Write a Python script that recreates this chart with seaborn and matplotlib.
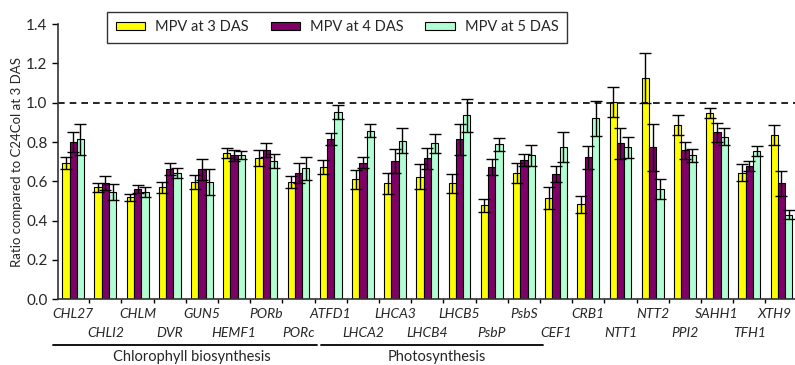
import numpy as np
import pandas as pd
import matplotlib
matplotlib.use("Agg")
import matplotlib.pyplot as plt
import matplotlib.transforms as mtransforms
import seaborn as sns

genes = ["CHL27", "CHLI2", "CHLM", "DVR", "GUN5", "HEMF1", "PORb", "PORc",
         "ATFD1", "LHCA2", "LHCA3", "LHCB4", "LHCB5", "PsbP", "PsbS",
         "CEF1", "CRB1", "NTT1", "NTT2", "PPI2", "SAHH1", "TFH1", "XTH9"]
series_names = ["MPV at 3 DAS", "MPV at 4 DAS", "MPV at 5 DAS"]
das3 = [0.695, 0.569, 0.518, 0.569, 0.596, 0.746, 0.717, 0.595,
        0.674, 0.610, 0.590, 0.623, 0.590, 0.479, 0.644,
        0.513, 0.483, 1.005, 1.124, 0.885, 0.949, 0.644, 0.834]
das4 = [0.800, 0.590, 0.561, 0.661, 0.661, 0.732, 0.759, 0.644,
        0.814, 0.695, 0.703, 0.717, 0.814, 0.674, 0.708,
        0.639, 0.722, 0.793, 0.773, 0.758, 0.849, 0.679, 0.590]
das5 = [0.814, 0.547, 0.547, 0.644, 0.596, 0.732, 0.703, 0.666,
        0.951, 0.858, 0.807, 0.793, 0.936, 0.788, 0.732,
        0.773, 0.921, 0.773, 0.561, 0.732, 0.827, 0.753, 0.430]
err3 = [0.030, 0.025, 0.020, 0.030, 0.035, 0.025, 0.040, 0.030,
        0.035, 0.050, 0.055, 0.063, 0.047, 0.033, 0.050,
        0.056, 0.042, 0.076, 0.127, 0.050, 0.026, 0.042, 0.051]
err4 = [0.050, 0.035, 0.020, 0.030, 0.055, 0.030, 0.035, 0.050,
        0.030, 0.027, 0.060, 0.054, 0.078, 0.040, 0.030,
        0.040, 0.058, 0.077, 0.120, 0.042, 0.049, 0.024, 0.064]
err5 = [0.080, 0.040, 0.025, 0.025, 0.065, 0.020, 0.035, 0.060,
        0.035, 0.034, 0.063, 0.049, 0.083, 0.032, 0.054,
        0.076, 0.090, 0.054, 0.050, 0.032, 0.043, 0.025, 0.024]
groups = ["Chlorophyll biosynthesis", "Photosynthesis"]

colors = ["#FFFF00", "#7F0066", "#AFFFD2"]

sns.set_style("white")
plt.rcParams["font.family"] = ["Lato", "DejaVu Sans"]

df = pd.DataFrame({
    "gene": genes * 3,
    "series": np.repeat(series_names, len(genes)),
    "value": das3 + das4 + das5,
})

fig = plt.figure(figsize=(7.95, 3.65), dpi=100)
ax = fig.add_axes([0.073, 0.18, 0.927, 0.754])

sns.barplot(data=df, x="gene", y="value", hue="series", order=genes,
            hue_order=series_names, palette=colors, width=0.68, errorbar=None,
            saturation=1, edgecolor="black", linewidth=0.8, ax=ax, legend=True)

errs = [err3, err4, err5]
vals = [das3, das4, das5]
for cont, e, v in zip(ax.containers, errs, vals):
    xs = [b.get_x() + b.get_width() / 2 for b in cont]
    ax.errorbar(xs, v, yerr=e, fmt="none", ecolor="black", elinewidth=1.0,
                capsize=4, capthick=1.0, zorder=5)

ax.set_ylim(0, 1.4)
ax.set_xlim(-0.47, 22.42)
ax.set_yticks(np.arange(0, 1.41, 0.2))
ax.set_yticklabels([f"{t:.1f}" for t in np.arange(0, 1.41, 0.2)], fontsize=11)
ax.axhline(1.0, color="black", linestyle=(0, (4, 3)), linewidth=1.2, zorder=1)

# boundary tick marks (major, unlabeled)
ax.set_xticks(np.arange(0.5, len(genes) - 0.5, 1))
ax.set_xticklabels([])
ax.tick_params(axis="x", which="major", length=3, width=1, direction="out",
               color="black", bottom=True)

# staggered category labels: even on minor ticks, odd on a secondary axis (lower row)
even = list(range(0, len(genes), 2))
odd = list(range(1, len(genes), 2))
ax.set_xticks(even, minor=True)
ax.set_xticklabels([genes[i] for i in even], minor=True, fontsize=10, style="italic")
ax.tick_params(axis="x", which="minor", length=0, pad=6)

sec = ax.secondary_xaxis("bottom")
sec.set_xticks(odd)
sec.set_xticklabels([genes[i] for i in odd], fontsize=10, style="italic")
sec.tick_params(axis="x", length=0, pad=20)
sec.spines["bottom"].set_visible(False)

last = ax.get_xticklabels(minor=True)[-1]
last.set_transform(last.get_transform() +
                   mtransforms.ScaledTranslation(-7 / 100, 0, fig.dpi_scale_trans))

ax.tick_params(axis="y", length=4, width=1, direction="out", color="black", left=True)
ax.set_xlabel("")
ax.set_ylabel("Ratio compared to C24Col at 3 DAS", fontsize=9.5, labelpad=2)

sns.despine(ax=ax, top=True, right=True)
for s in ["left", "bottom"]:
    ax.spines[s].set_color("#333333")
    ax.spines[s].set_linewidth(1.2)

trans = mtransforms.blended_transform_factory(ax.transData, fig.transFigure)
line_y = 1 - 345 / 365
text_y = 1 - 357 / 365
for (x0, x1, xt), name in zip([(-0.62, 7.58, 3.7), (7.7, 14.6, 11.3)], groups):
    ax.plot([x0, x1], [line_y, line_y], color="black", linewidth=1.3,
            transform=trans, clip_on=False)
    ax.text(xt, text_y, name, transform=trans, ha="center", va="center", fontsize=10.5)

handles, labels = ax.get_legend_handles_labels()
ax.get_legend().remove()
leg = fig.legend(handles, labels, loc="center", bbox_to_anchor=(0.424, 0.925),
                 ncol=3, frameon=True, fancybox=False, edgecolor="black",
                 fontsize=10.5, handlelength=2.0, handleheight=0.5,
                 columnspacing=1.5, borderpad=0.6, handletextpad=0.7)
leg.get_frame().set_linewidth(1.0)

fig.savefig("out.png", dpi=100)
